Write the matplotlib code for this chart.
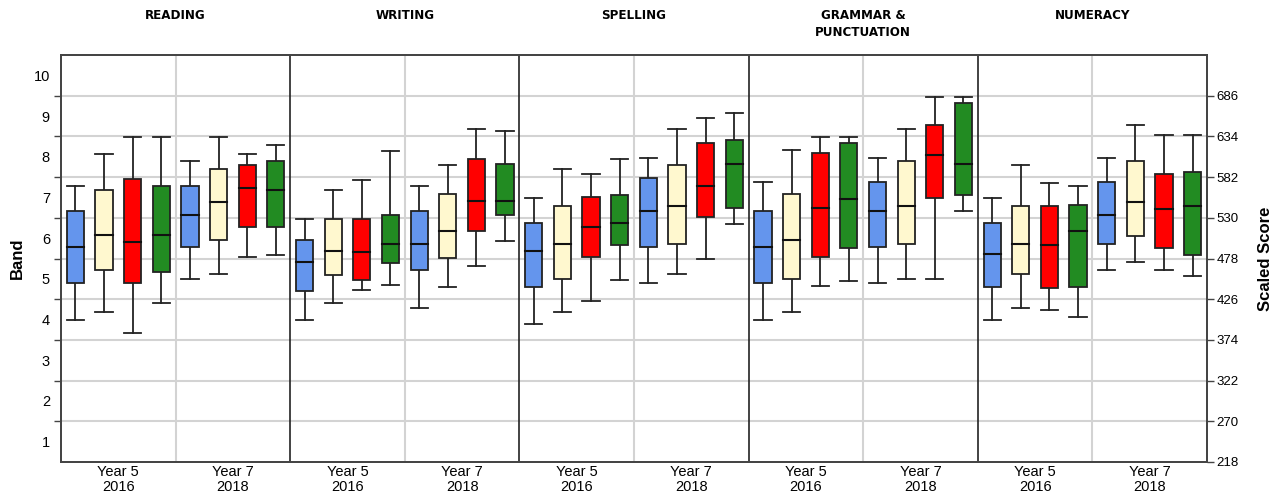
import matplotlib
matplotlib.use("Agg")
import matplotlib.pyplot as plt
from matplotlib.patches import Rectangle

subjects = ["READING", "WRITING", "SPELLING", "GRAMMAR &\nPUNCTUATION", "NUMERACY"]
groups = ["Year 5\n2016", "Year 7\n2018"]
series_colors = ["#6495ED", "#FFF8CF", "#FF0000", "#228B22"]

# each box: (whisker_low, q1, median, q3, whisker_high) in scaled score
reading = [
    (400, 447, 493, 539, 571), (410, 463, 508, 566, 612), (383, 447, 499, 580, 633), (421, 461, 508, 571, 633),
    (452, 493, 534, 571, 603), (458, 502, 550, 592, 633), (480, 518, 568, 597, 612), (483, 518, 566, 603, 623),
]
writing = [
    (400, 437, 474, 502, 529), (421, 457, 488, 529, 566), (438, 450, 486, 529, 578), (444, 472, 497, 534, 615),
    (415, 463, 497, 539, 571), (442, 479, 513, 560, 597), (468, 513, 551, 605, 643), (500, 534, 551, 599, 641),
]
spelling = [
    (394, 442, 488, 523, 555), (410, 452, 497, 545, 592), (424, 480, 518, 557, 586), (451, 495, 523, 559, 605),
    (447, 493, 539, 581, 606), (458, 497, 545, 597, 643), (477, 531, 571, 626, 657), (522, 543, 599, 629, 664),
]
grammar = [
    (400, 447, 493, 539, 576), (410, 452, 502, 560, 617), (443, 480, 543, 613, 633), (449, 492, 554, 626, 633),
    (447, 493, 539, 576, 606), (452, 497, 545, 603, 643), (452, 555, 610, 649, 684), (539, 559, 599, 677, 684),
]
numeracy = [
    (400, 442, 484, 523, 555), (415, 458, 497, 545, 597), (412, 440, 495, 545, 575), (403, 442, 513, 546, 571),
    (463, 497, 534, 576, 606), (474, 507, 550, 603, 649), (463, 492, 541, 586, 636), (456, 483, 545, 589, 636),
]
all_data = [reading, writing, spelling, grammar, numeracy]

score_ticks = [218, 270, 322, 374, 426, 478, 530, 582, 634, 686]
band_labels = ["1", "2", "3", "4", "5", "6", "7", "8", "9", "10"]

W, H = 1281, 497
fig = plt.figure(figsize=(W / 100, H / 100), dpi=100)
ax = fig.add_axes([61 / W, 1 - 462 / H, (1207 - 61) / W, (462 - 55) / H])
ymin, ymax = 218, 738
ax.set_ylim(ymin, ymax)
ax.set_xlim(0, 40)

# grid
for s in score_ticks[1:]:
    ax.axhline(s, color="#d3d3d3", lw=1.5, zorder=0)
for p in range(5):
    ax.axvline(p * 8 + 4, color="#d3d3d3", lw=1.5, zorder=0)
    if p > 0:
        ax.axvline(p * 8, color="#222222", lw=1.2, zorder=1)

bw = 0.6
for p, data in enumerate(all_data):
    for k, (wl, q1, med, q3, wh) in enumerate(data):
        xc = p * 8 + k + 0.5
        col = series_colors[k % 4]
        ax.plot([xc, xc], [wl, q1], color="#222222", lw=1.3, zorder=2)
        ax.plot([xc, xc], [q3, wh], color="#222222", lw=1.3, zorder=2)
        ax.plot([xc - bw / 2, xc + bw / 2], [wl, wl], color="#222222", lw=1.3, zorder=2)
        ax.plot([xc - bw / 2, xc + bw / 2], [wh, wh], color="#222222", lw=1.3, zorder=2)
        ax.add_patch(Rectangle((xc - bw / 2, q1), bw, q3 - q1, facecolor=col,
                               edgecolor="#222222", lw=1.3, zorder=3))
        ax.plot([xc - bw / 2, xc + bw / 2], [med, med], color="#111111", lw=1.5, zorder=4)
    ax.text(p * 8 + 4, 1.113, subjects[p], transform=ax.get_xaxis_transform(),
            ha="center", va="top", fontsize=9.5, fontweight="bold",
            family="DejaVu Sans", fontstretch="condensed", linespacing=1.35)

# x ticks
xt = [p * 8 + g * 4 + 2 for p in range(5) for g in range(2)]
ax.set_xticks(xt)
ax.set_xticklabels(groups * 5, fontsize=10.5, family="Liberation Sans", linespacing=1.1)
ax.tick_params(axis="x", length=0, pad=2)

# left axis: ticks at grid, labels at band centres
ax.set_yticks(score_ticks[1:])
ax.set_yticklabels([])
ax.tick_params(axis="y", which="major", length=5, width=1, color="#444444")
ax.set_yticks([218 + 52 * (i + 0.5) for i in range(10)], minor=True)
ax.set_yticklabels(band_labels, minor=True, fontsize=10.5, family="Liberation Sans")
ax.tick_params(axis="y", which="minor", length=0, pad=8)
ax.set_ylabel("Band", fontsize=12, fontweight="bold", family="Liberation Sans", labelpad=6)

ax2 = ax.twinx()
ax2.set_ylim(ymin, ymax)
ax2.set_yticks(score_ticks)
ax2.set_yticklabels([str(s) for s in score_ticks], fontsize=9.5, family="Liberation Sans")
ax2.tick_params(axis="y", length=5, width=1, color="#444444", pad=2)
ax2.set_ylabel("Scaled Score", fontsize=12, fontweight="bold", family="Liberation Sans",
               rotation=90, labelpad=14)

for a in (ax, ax2):
    for sp in a.spines.values():
        sp.set_color("#444444")
        sp.set_linewidth(1.3)

fig.savefig("out.png", dpi=100)
